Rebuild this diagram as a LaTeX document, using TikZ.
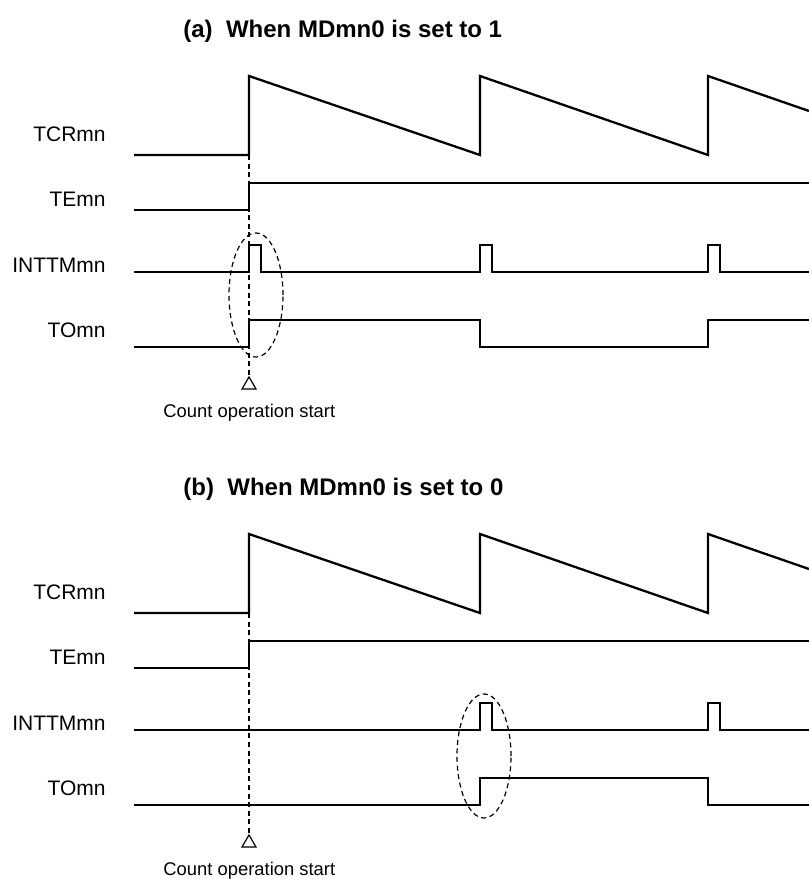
\documentclass[tikz,border=0pt]{standalone}
\usepackage{fontspec}
\setmainfont{Liberation Sans}
\usetikzlibrary{shapes.geometric}

\begin{document}
\begin{tikzpicture}[
    x=0.5pt, y=-0.5pt,
    signal/.style={line width=1.15pt, line join=miter},
    marker/.style={line width=0.6pt, dash pattern=on 2.5pt off 1.8pt},
    sig_label/.style={anchor=base east, inner sep=0pt, font=\fontsize{10.5}{12}\selectfont},
    title_label/.style={anchor=base west, inner sep=0pt, font=\fontsize{12}{14}\selectfont\bfseries},
    note_label/.style={anchor=base west, inner sep=0pt, font=\fontsize{9.2}{11}\selectfont},
    ring/.style={ellipse, draw, marker, minimum width=27pt, minimum height=62pt, inner sep=0pt},
    start_mark/.style={regular polygon, regular polygon sides=3, draw, line width=0.6pt, minimum size=8.1pt, inner sep=0pt}
]
    \useasboundingbox (0,0) rectangle (809,879);

    % (a)
    \node[title_label] (TA) at (183,37) {(a)\ \ When MDmn0 is set to 1};
    \node[sig_label] (TCRa) at (106,141) {TCRmn};
    \node[sig_label] (TEa) at (106,206) {TEmn};
    \node[sig_label] (INTa) at (106,272) {INTTMmn};
    \node[sig_label] (TOa) at (106,337) {TOmn};
    \draw[signal] (134,155) -- (249,155) coordinate (Ra) -- (249,76) -- (480,155) -- (480,76) -- (708,155) -- (708,76) -- (809,111);
    \draw[signal] (134,210) -- (249,210) -- (249,183) -- (809,183);
    \draw[signal] (134,272) -- (249,272) |- (261,245) |- (480,272) |- (492,245) |- (708,272) |- (720,245) |- (809,272);
    \draw[signal] (134,347) -- (249,347) |- (480,320) |- (708,347) |- (809,320);
    \node[start_mark] (Sa) at (249,385) {};
    \draw[marker] (Ra) -- (Sa.corner 1);
    \node[ring] (Ea) at (256,295) {};
    \node[note_label] (Na) at (163,417) {Count operation start};

    % (b)
    \begin{scope}[shift={(0,458)}]
    \node[title_label] (TB) at (183,37) {(b)\ \ When MDmn0 is set to 0};
    \node[sig_label] (TCRb) at (106,141) {TCRmn};
    \node[sig_label] (TEb) at (106,206) {TEmn};
    \node[sig_label] (INTb) at (106,272) {INTTMmn};
    \node[sig_label] (TOb) at (106,337) {TOmn};
    \draw[signal] (134,155) -- (249,155) coordinate (Rb) -- (249,76) -- (480,155) -- (480,76) -- (708,155) -- (708,76) -- (809,111);
    \draw[signal] (134,210) -- (249,210) -- (249,183) -- (809,183);
    \draw[signal] (134,272) -- (480,272) |- (492,245) |- (708,272) |- (720,245) |- (809,272);
    \draw[signal] (134,347) -- (480,347) |- (708,320) |- (809,347);
    \node[start_mark] (Sb) at (249,385) {};
    \draw[marker] (Rb) -- (Sb.corner 1);
    \node[ring] (Eb) at (484,298) {};
    \node[note_label] (Nb) at (163,417) {Count operation start};
    \end{scope}
\end{tikzpicture}
\end{document}
